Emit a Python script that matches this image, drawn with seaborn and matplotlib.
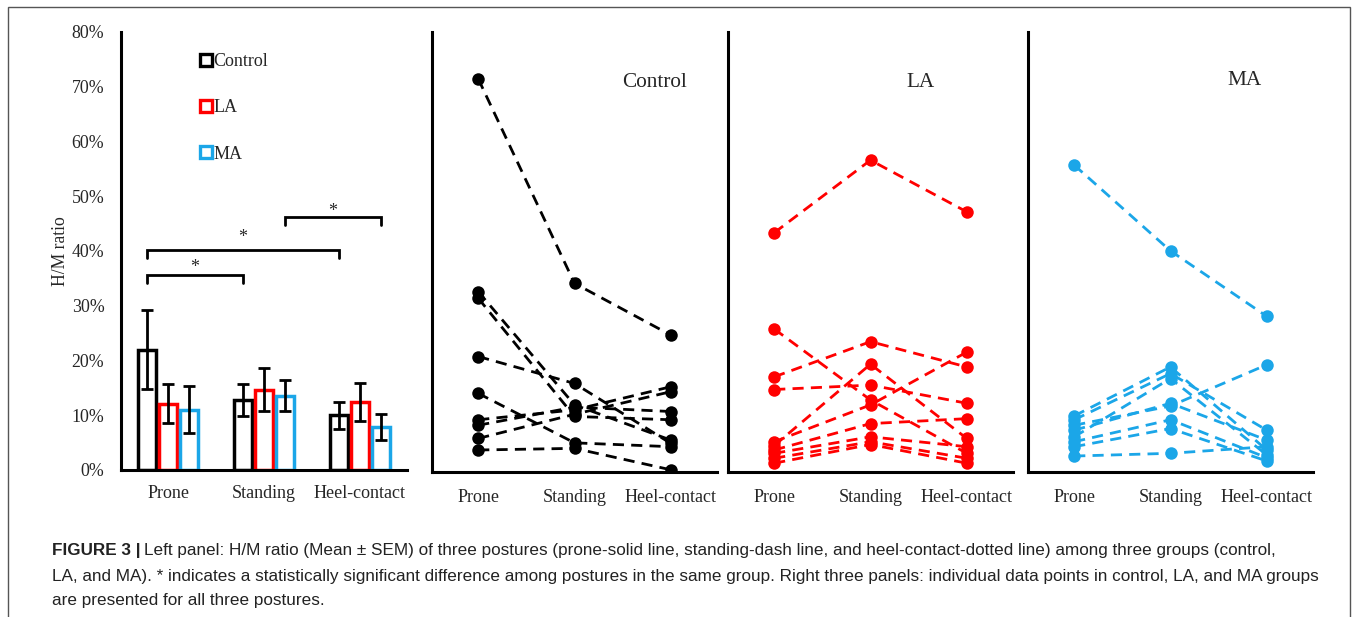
import numpy as np
import pandas as pd
import matplotlib
matplotlib.use("Agg")
import matplotlib.pyplot as plt
import seaborn as sns
from matplotlib.lines import Line2D
from matplotlib.patches import Rectangle
from matplotlib.ticker import FuncFormatter

# ---------------- data ----------------
postures = ["Prone", "Standing", "Heel-contact"]
groups = ["Control", "LA", "MA"]
group_colors = ["#000000", "#FF0000", "#1BA6E8"]

# left panel: mean and SEM (%)
mean_control = [22.0, 12.8, 10.0]
mean_la = [12.1, 14.7, 12.4]
mean_ma = [11.0, 13.6, 7.8]
sem_control = [7.2, 2.9, 2.5]
sem_la = [3.6, 3.9, 3.5]
sem_ma = [4.3, 2.9, 2.4]

# right panels: individual subjects (%), same subject order in each list
control_prone = [71.5, 32.8, 31.6, 21.0, 14.3, 9.5, 8.5, 6.1, 4.0]
control_standing = [34.3, 12.2, 10.1, 16.1, 5.3, 11.3, 11.8, 10.5, 4.3]
control_heel = [24.9, 5.8, 9.5, 5.2, 4.6, 15.5, 11.0, 14.6, 0.4]

la_prone = [43.5, 26.0, 17.3, 15.0, 5.5, 4.8, 4.0, 3.4, 2.5, 1.6]
la_standing = [56.7, 13.1, 23.7, 15.8, 12.2, 19.6, 8.8, 6.4, 5.5, 5.0]
la_heel = [47.3, 3.4, 19.1, 12.5, 21.8, 6.1, 9.7, 4.6, 2.5, 1.6]

ma_prone = [55.8, 10.2, 9.5, 6.4, 8.5, 7.6, 5.5, 4.6, 2.9]
ma_standing = [40.2, 19.1, 17.9, 17.0, 12.0, 12.5, 9.5, 7.9, 3.4]
ma_heel = [28.3, 4.0, 7.6, 3.1, 19.5, 5.8, 2.6, 2.0, 4.6]

y_ticks = [0, 10, 20, 30, 40, 50, 60, 70, 80]

# ---------------- style ----------------
sns.set_theme(style="white")
plt.rcParams["font.family"] = ["Liberation Serif", "DejaVu Serif"]
plt.rcParams["axes.linewidth"] = 2.2
plt.rcParams["axes.edgecolor"] = "black"

W, H = 1355, 617
fig = plt.figure(figsize=(W / 100, H / 100), dpi=100)
fig.patch.set_facecolor("white")


def px_axes(x0, x1, ytop, ybot):
    return fig.add_axes([x0 / W, 1 - ybot / H, (x1 - x0) / W, (ybot - ytop) / H])


ax0 = px_axes(121, 407, 32, 470)
ax1 = px_axes(432, 717, 32, 472)
ax2 = px_axes(728, 1013, 32, 472)
ax3 = px_axes(1028, 1313, 32, 472)

# ---------------- left panel (bars) ----------------
means = [mean_control, mean_la, mean_ma]
sems = [sem_control, sem_la, sem_ma]
rows = []
for g, m in zip(groups, means):
    for p, v in zip(postures, m):
        rows.append({"posture": p, "group": g, "mean": v})
df_bar = pd.DataFrame(rows)

sns.barplot(data=df_bar, x="posture", y="mean", hue="group", order=postures,
            hue_order=groups, palette=group_colors, fill=False, width=0.66,
            gap=0.18, linewidth=2.5, errorbar=None, legend=False, ax=ax0)

centers = {}
for patch in ax0.patches:
    ec = patch.get_edgecolor()
    gi = int(np.argmin([np.sum((np.array(matplotlib.colors.to_rgb(c)) - np.array(ec[:3])) ** 2)
                        for c in group_colors]))
    xc = patch.get_x() + patch.get_width() / 2
    pi = int(round(xc))
    h = patch.get_height()
    centers[(gi, pi)] = xc
    ax0.errorbar(xc, h, yerr=sems[gi][pi], fmt="none", ecolor="black",
                 elinewidth=2.0, capsize=4.5, capthick=2.0, zorder=5)

ax0.set_xlim(-0.49, 2.49)
ax0.set_ylim(0, 80)
ax0.set_yticks(y_ticks)
ax0.yaxis.set_major_formatter(FuncFormatter(lambda v, _: f"{v:.0f}%"))
ax0.set_xlabel("")
ax0.set_ylabel("H/M ratio", fontsize=12.7, labelpad=2)
ax0.tick_params(axis="y", direction="in", length=5, width=2, pad=12, labelsize=12.9)
ax0.tick_params(axis="x", length=0, pad=11, labelsize=13)
for s in ["top", "right"]:
    ax0.spines[s].set_visible(False)


def bracket(xa, xb, y, drop=1.5, star_y=None):
    ax0.plot([xa, xa, xb, xb], [y - drop, y, y, y - drop], color="black", lw=2.0,
             solid_joinstyle="miter", zorder=6)
    ax0.text((xa + xb) / 2, star_y, "*", ha="center", va="center", fontsize=13)


bracket(centers[(0, 0)], centers[(0, 1)], 35.7, star_y=37.0)
bracket(centers[(0, 0)], centers[(0, 2)], 40.2, star_y=42.5)
bracket(centers[(2, 1)], centers[(2, 2)], 46.2, star_y=47.3)

handles = [Line2D([], [], linestyle="none", marker="s", markersize=9,
                  markerfacecolor="white", markeredgecolor=c, markeredgewidth=2.4)
           for c in group_colors]
ax0.legend(handles, groups, loc="upper left", bbox_to_anchor=(0.25, 0.968),
           frameon=False, handlelength=0.7, handletextpad=0.05, labelspacing=1.62,
           fontsize=13, borderaxespad=0)

# ---------------- right panels (individual lines) ----------------
indiv = [
    (control_prone, control_standing, control_heel),
    (la_prone, la_standing, la_heel),
    (ma_prone, ma_standing, ma_heel),
]
panel_axes = [ax1, ax2, ax3]
label_pos = [(0.78, 0.886), (0.677, 0.886), (0.761, 0.89)]

for ax, g, c, data, lp in zip(panel_axes, groups, group_colors, indiv, label_pos):
    rows = []
    for pi, vals in enumerate(data):
        for si, v in enumerate(vals):
            rows.append({"subject": si, "posture": postures[pi], "pos": pi, "value": v})
    df = pd.DataFrame(rows)
    sns.lineplot(data=df, x="pos", y="value", units="subject", estimator=None,
                 color=c, marker="o", markersize=9, markeredgewidth=0,
                 linewidth=2.0, ax=ax, legend=False)
    for ln in ax.lines:
        ln.set_linestyle((0, (4, 2.6)))
    ax.set_xlim(-0.48, 2.48)
    ax.set_ylim(0, 80)
    ax.set_yticks(y_ticks)
    ax.set_yticklabels([])
    ax.set_xticks(range(len(postures)))
    ax.set_xticklabels(postures)
    ax.set_xlabel("")
    ax.set_ylabel("")
    ax.tick_params(axis="y", direction="in", length=5, width=2)
    ax.tick_params(axis="x", length=0, pad=12, labelsize=13)
    for s in ["top", "right"]:
        ax.spines[s].set_visible(False)
    ax.text(lp[0], lp[1], g, transform=ax.transAxes, ha="center", va="center",
            fontsize=15.3)

# ---------------- frame and caption ----------------
fig.add_artist(Rectangle((8 / W, -0.1), (1350 - 8) / W, 1.1 - 7 / H + 0.0,
                         transform=fig.transFigure, fill=False,
                         edgecolor="#555555", lw=1.0))

cap_font = ["Liberation Sans", "DejaVu Sans"]
cap_color = "#222222"
cap_size = 12.3
x_cap = 52 / W
t_bold = fig.text(x_cap, 1 - 551 / H, "FIGURE 3 |", family=cap_font, fontweight="bold",
                  fontsize=cap_size, color=cap_color, va="center", ha="left")
fig.canvas.draw()
bb = t_bold.get_window_extent(renderer=fig.canvas.get_renderer())
x_rest = (bb.x1 + 3) / W
fig.text(x_rest, 1 - 551 / H,
         "Left panel: H/M ratio (Mean \u00b1 SEM) of three postures (prone-solid line, "
         "standing-dash line, and heel-contact-dotted line) among three groups (control,",
         family=cap_font, fontsize=cap_size, color=cap_color, va="center", ha="left")
fig.text(x_cap, 1 - 576 / H,
         "LA, and MA). * indicates a statistically significant difference among postures "
         "in the same group. Right three panels: individual data points in control, LA, and MA groups",
         family=cap_font, fontsize=cap_size, color=cap_color, va="center", ha="left")
fig.text(x_cap, 1 - 601 / H, "are presented for all three postures.",
         family=cap_font, fontsize=cap_size, color=cap_color, va="center", ha="left")

fig.savefig("out.png", dpi=100, facecolor="white")
